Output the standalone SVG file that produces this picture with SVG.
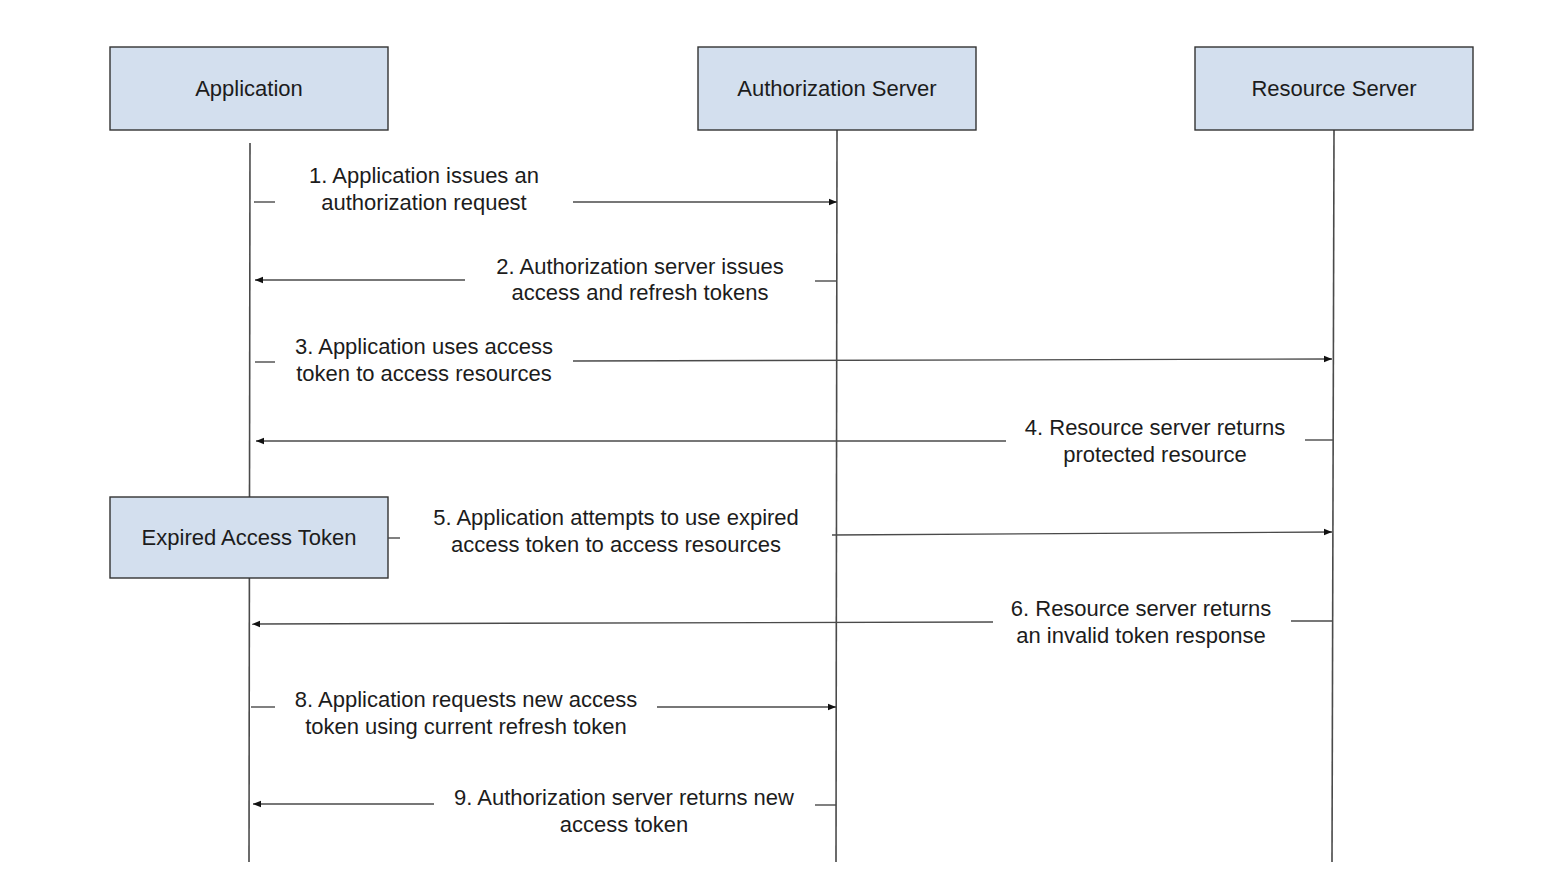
<svg xmlns="http://www.w3.org/2000/svg" width="1566" height="886" viewBox="0 0 1566 886">
<style>
.box{fill:#d3dfee;stroke:#333;stroke-width:1.4}
.life{stroke:#4a4a4a;stroke-width:1.6;fill:none}
.msg{stroke:#4a4a4a;stroke-width:1.4;fill:none}
.arr{marker-end:url(#ah)}
text{font-family:"Liberation Sans",Arial,sans-serif;font-size:22px;fill:#1c1c1c;text-anchor:middle}
</style>
<defs>
<marker id="ah" viewBox="0 0 10 10" refX="10" refY="5" markerWidth="8" markerHeight="8" markerUnits="userSpaceOnUse" orient="auto">
<path d="M0,1 L10,5 L0,9 z" fill="#111"/>
</marker>
</defs>
<rect width="1566" height="886" fill="#fff"/>
<g id="lifelines">
<line class="life" x1="250" y1="143" x2="249" y2="862"/>
<line class="life" x1="837" y1="130" x2="836" y2="862"/>
<line class="life" x1="1334" y1="130" x2="1332" y2="862"/>
</g>
<g id="app"><rect class="box" x="110" y="47" width="278" height="83"/><text x="249" y="96">Application</text></g>
<g id="authserver"><rect class="box" x="698" y="47" width="278" height="83"/><text x="837" y="96">Authorization Server</text></g>
<g id="resserver"><rect class="box" x="1195" y="47" width="278" height="83"/><text x="1334" y="96">Resource Server</text></g>
<g id="expired"><rect class="box" x="110" y="497" width="278" height="81"/><text x="249" y="545">Expired Access Token</text></g>
<g id="connectors">
<line class="msg" x1="254" y1="202" x2="275" y2="202"/>
<line class="msg arr" x1="573" y1="202" x2="837" y2="202"/>
<line class="msg arr" x1="465" y1="280" x2="255" y2="280"/>
<line class="msg" x1="815" y1="281" x2="837" y2="281"/>
<line class="msg" x1="255" y1="362" x2="275" y2="362"/>
<line class="msg arr" x1="573" y1="361" x2="1332" y2="359"/>
<line class="msg arr" x1="1006" y1="441" x2="256" y2="441"/>
<line class="msg" x1="1305" y1="440" x2="1333" y2="440"/>
<line class="msg" x1="388" y1="538" x2="400" y2="538"/>
<line class="msg arr" x1="832" y1="535" x2="1332" y2="532"/>
<line class="msg arr" x1="993" y1="622" x2="252" y2="624"/>
<line class="msg" x1="1291" y1="621" x2="1333" y2="621"/>
<line class="msg" x1="251" y1="707" x2="275" y2="707"/>
<line class="msg arr" x1="657" y1="707" x2="836" y2="707"/>
<line class="msg arr" x1="434" y1="804" x2="253" y2="804"/>
<line class="msg" x1="815" y1="805" x2="836" y2="805"/>
</g>
<g id="labels">
<text x="424" y="183">1. Application issues an</text>
<text x="424" y="210">authorization request</text>
<text x="640" y="274">2. Authorization server issues</text>
<text x="640" y="300">access and refresh tokens</text>
<text x="424" y="354">3. Application uses access</text>
<text x="424" y="381">token to access resources</text>
<text x="1155" y="435">4. Resource server returns</text>
<text x="1155" y="462">protected resource</text>
<text x="616" y="525">5. Application attempts to use expired</text>
<text x="616" y="552">access token to access resources</text>
<text x="1141" y="616">6. Resource server returns</text>
<text x="1141" y="643">an invalid token response</text>
<text x="466" y="707">8. Application requests new access</text>
<text x="466" y="734">token using current refresh token</text>
<text x="624" y="805">9. Authorization server returns new</text>
<text x="624" y="832">access token</text>
</g>
</svg>
